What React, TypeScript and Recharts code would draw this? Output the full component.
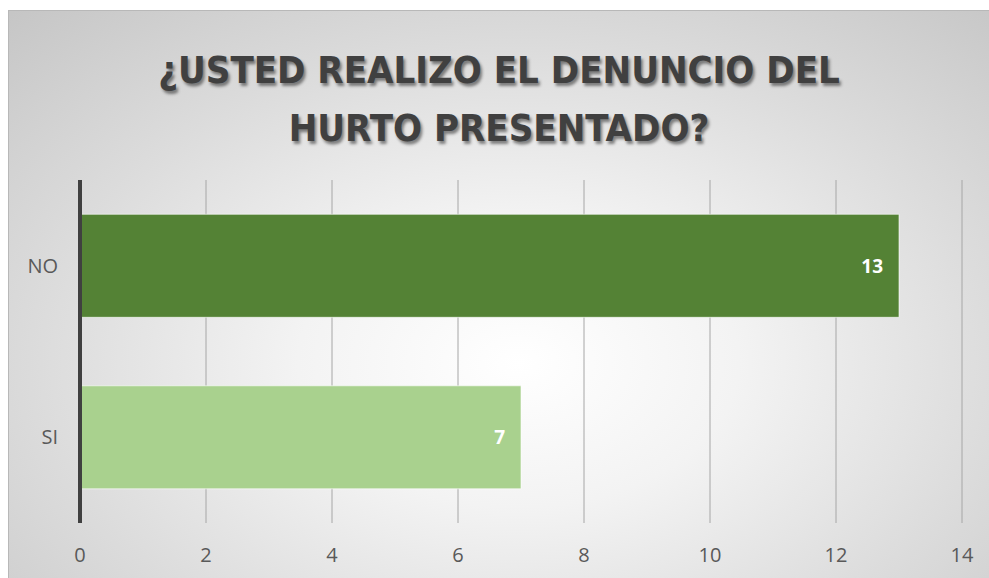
import { BarChart, Bar, XAxis, YAxis, CartesianGrid, LabelList, Cell } from "recharts";

const categories = ["NO", "SI"];
const values = [13, 7];
const barColors = ["#548235", "#A9D18E"];
const xTicks = [0, 2, 4, 6, 8, 10, 12, 14];
const titleLines = ["¿USTED REALIZO EL DENUNCIO DEL", "HURTO PRESENTADO?"];

const data = categories.map((name, i) => ({ name, value: values[i] }));

// custom ticks so the font size is sure to stick
const XTick = ({ x, y, payload }: any) => (
    <text x={x} y={y + 31} textAnchor="middle" fontSize={20} fill="#595959" fontFamily="'Open Sans', sans-serif">
        {payload.value}
    </text>
);

const YTick = ({ x, y, payload }: any) => (
    <text x={x - 14} y={y + 7} textAnchor="end" fontSize={20} fill="#595959" fontFamily="'Open Sans', sans-serif">
        {payload.value}
    </text>
);

export default function App() {
    return (
        <div
            style={{
                position: "absolute",
                left: 8,
                top: 10,
                width: 981,
                height: 568,
                background: "radial-gradient(ellipse 75% 85% at 52% 62%, #ffffff 0%, #f3f3f3 30%, #dcdcdc 65%, #c6c6c6 100%)",
                borderTop: "1px solid #b8b8b8",
                borderLeft: "1px solid #b8b8b8",
                boxSizing: "border-box",
                fontFamily: "'Open Sans', sans-serif",
            }}
        >
            <div
                style={{
                    position: "absolute",
                    left: 0,
                    top: 30,
                    width: "100%",
                    textAlign: "center",
                    fontFamily: "'DejaVu Sans Condensed', 'DejaVu Sans', sans-serif",
                    fontStretch: "condensed",
                    fontWeight: "bold",
                    fontSize: 38,
                    lineHeight: "58px",
                    color: "#404040",
                    textShadow: "2px 3px 3px rgba(0,0,0,0.45)",
                }}
            >
                {titleLines.map((t) => (
                    <div key={t}>{t}</div>
                ))}
            </div>
            <BarChart
                width={980}
                height={567}
                data={data}
                layout="vertical"
                margin={{ top: 169, right: 27, bottom: 0, left: 0 }}
                barCategoryGap="20%"
                style={{ position: "absolute", left: 0, top: 0 }}
            >
                <CartesianGrid horizontal={false} stroke="#a6a6a6" strokeWidth={1} />
                <XAxis
                    type="number"
                    domain={[0, 14]}
                    ticks={xTicks}
                    axisLine={false}
                    tickLine={false}
                    height={55}
                    tick={XTick}
                />
                <YAxis
                    type="category"
                    dataKey="name"
                    width={71}
                    axisLine={{ stroke: "#404040", strokeWidth: 4 }}
                    tickLine={false}
                    tick={YTick}
                />
                <Bar dataKey="value" isAnimationActive={false} stroke="#ffffff" strokeOpacity={0.6} strokeWidth={1}>
                    {data.map((d, i) => (
                        <Cell key={d.name} fill={barColors[i]} />
                    ))}
                    <LabelList
                        dataKey="value"
                        position="insideRight"
                        offset={16}
                        fill="#ffffff"
                        fontSize={19}
                        fontWeight="bold"
                    />
                </Bar>
            </BarChart>
        </div>
    );
}
